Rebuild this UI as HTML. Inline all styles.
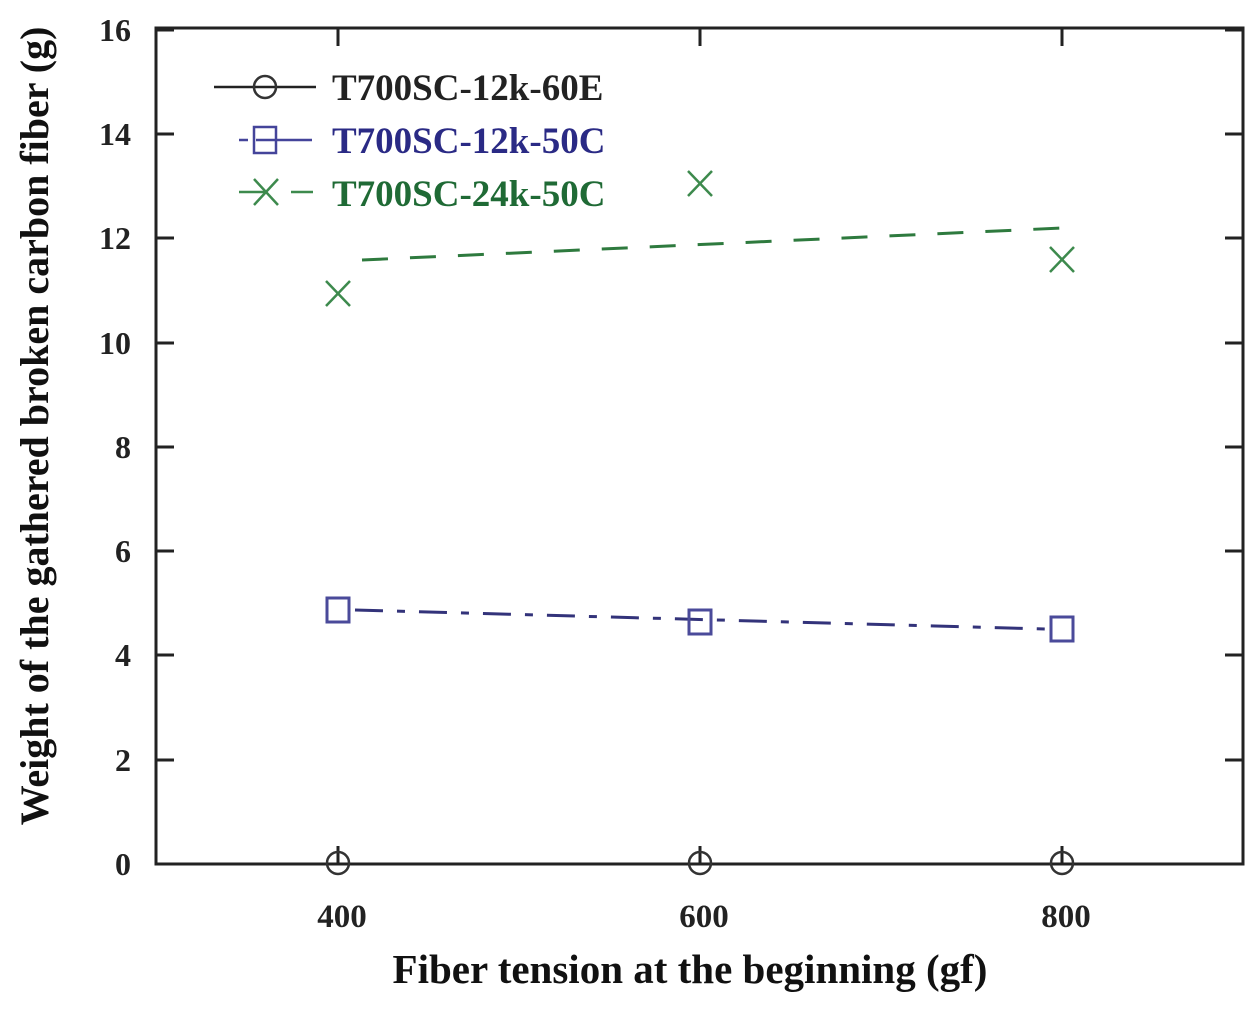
<!DOCTYPE html>
<html><head><meta charset="utf-8"><style>
body{margin:0;background:#fff;}
svg{display:block;font-family:"Liberation Serif",serif;}
</style></head><body>
<svg width="1260" height="1011" viewBox="0 0 1260 1011">
<rect x="156" y="28" width="1087" height="836" fill="none" stroke="#222" stroke-width="3"/>
<g stroke="#222" stroke-width="3">
<line x1="156" y1="30" x2="174" y2="30"/><line x1="1225" y1="30" x2="1243" y2="30"/>
<line x1="156" y1="134" x2="174" y2="134"/><line x1="1225" y1="134" x2="1243" y2="134"/>
<line x1="156" y1="238" x2="174" y2="238"/><line x1="1225" y1="238" x2="1243" y2="238"/>
<line x1="156" y1="343" x2="174" y2="343"/><line x1="1225" y1="343" x2="1243" y2="343"/>
<line x1="156" y1="447" x2="174" y2="447"/><line x1="1225" y1="447" x2="1243" y2="447"/>
<line x1="156" y1="551" x2="174" y2="551"/><line x1="1225" y1="551" x2="1243" y2="551"/>
<line x1="156" y1="655" x2="174" y2="655"/><line x1="1225" y1="655" x2="1243" y2="655"/>
<line x1="156" y1="760" x2="174" y2="760"/><line x1="1225" y1="760" x2="1243" y2="760"/>
<line x1="338" y1="28" x2="338" y2="46"/><line x1="338" y1="846" x2="338" y2="864"/>
<line x1="700" y1="28" x2="700" y2="46"/><line x1="700" y1="846" x2="700" y2="864"/>
<line x1="1062" y1="28" x2="1062" y2="46"/><line x1="1062" y1="846" x2="1062" y2="864"/>
</g>
<g font-size="32" font-weight="bold" fill="#222" text-anchor="end">
<text x="131" y="41">16</text><text x="131" y="145">14</text><text x="131" y="249">12</text>
<text x="131" y="354">10</text><text x="131" y="458">8</text><text x="131" y="562">6</text>
<text x="131" y="666">4</text><text x="131" y="771">2</text><text x="131" y="875">0</text>
</g>
<g font-size="33" font-weight="bold" fill="#222" text-anchor="middle">
<text x="342" y="927">400</text><text x="704" y="927">600</text><text x="1066" y="927">800</text>
</g>
<text x="690" y="983" font-size="41" font-weight="bold" fill="#111" text-anchor="middle">Fiber tension at the beginning (gf)</text>
<text transform="translate(48,426) rotate(-90)" font-size="40" font-weight="bold" fill="#111" text-anchor="middle">Weight of the gathered broken carbon fiber (g)</text>
<g fill="none" stroke="#333" stroke-width="2.5">
<circle cx="338" cy="863" r="11"/><circle cx="700" cy="863" r="11"/><circle cx="1062" cy="863" r="11"/>
</g>
<line x1="355" y1="610" x2="1045" y2="629" stroke="#33337a" stroke-width="3" stroke-dasharray="28,14,8,14"/>
<g fill="none" stroke="#4a4a9a" stroke-width="3">
<rect x="327" y="598" width="22" height="24"/><rect x="689" y="610" width="22" height="24"/><rect x="1051" y="617" width="22" height="24"/>
</g>
<line x1="362" y1="260" x2="1062" y2="228" stroke="#2e7a3e" stroke-width="3" stroke-dasharray="26,22"/>
<g stroke="#3d8a4d" stroke-width="2.5">
<line x1="326" y1="281" x2="350" y2="306"/><line x1="350" y1="281" x2="326" y2="306"/>
<line x1="688" y1="171" x2="712" y2="196"/><line x1="712" y1="171" x2="688" y2="196"/>
<line x1="1050" y1="247" x2="1074" y2="272"/><line x1="1074" y1="247" x2="1050" y2="272"/>
</g>
<line x1="214" y1="87" x2="316" y2="87" stroke="#222" stroke-width="2.5"/>
<circle cx="265" cy="87" r="11" fill="none" stroke="#333" stroke-width="2.5"/>
<text x="332" y="100" font-size="37" font-weight="bold" fill="#222">T700SC-12k-60E</text>
<line x1="239" y1="140" x2="248" y2="140" stroke="#44449a" stroke-width="2.5"/>
<line x1="256" y1="140" x2="312" y2="140" stroke="#44449a" stroke-width="2.5"/>
<rect x="254" y="127" width="22" height="26" fill="none" stroke="#44449a" stroke-width="2.5"/>
<text x="332" y="153" font-size="37" font-weight="bold" fill="#2a2a85">T700SC-12k-50C</text>
<line x1="239" y1="192" x2="266" y2="192" stroke="#3d8a4d" stroke-width="2.5"/>
<line x1="291" y1="192" x2="313" y2="192" stroke="#3d8a4d" stroke-width="2.5"/>
<line x1="254" y1="179" x2="278" y2="205" stroke="#3d8a4d" stroke-width="2.5"/>
<line x1="278" y1="179" x2="254" y2="205" stroke="#3d8a4d" stroke-width="2.5"/>
<text x="332" y="206" font-size="37" font-weight="bold" fill="#1f6a35">T700SC-24k-50C</text>
</svg>
</body></html>
